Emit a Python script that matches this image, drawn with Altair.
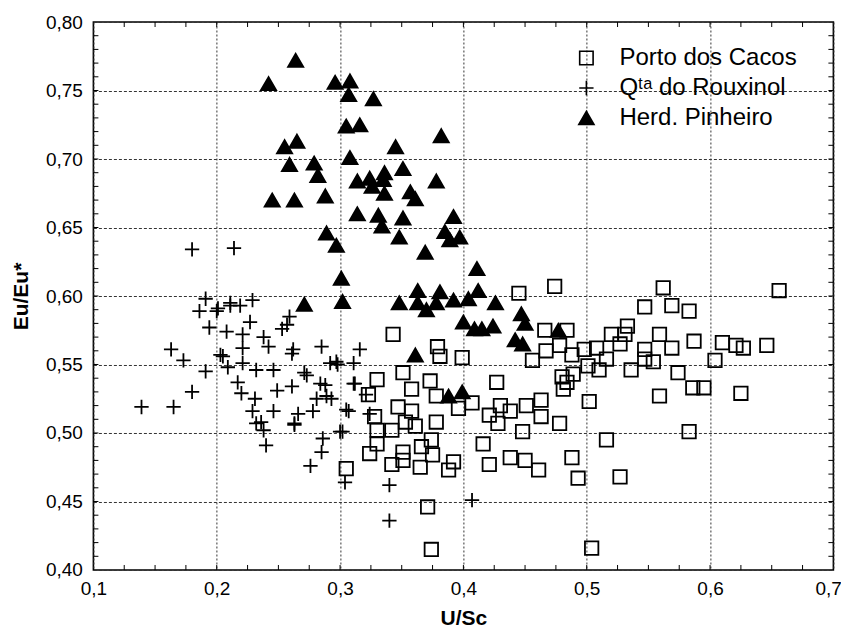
import altair as alt
import pandas as pd

# ---------------- data ----------------
series_names = ["Porto dos Cacos", "Q\u1d57\u1d43 do Rouxinol", "Herd. Pinheiro"]

porto_x = [0.445, 0.474, 0.343, 0.379, 0.381, 0.399, 0.466, 0.467, 0.456, 0.330,
           0.351, 0.373, 0.358, 0.427, 0.378, 0.323, 0.347, 0.358, 0.396, 0.407,
           0.421, 0.430, 0.438, 0.451, 0.463, 0.463, 0.428, 0.328, 0.330, 0.342,
           0.353, 0.361, 0.378, 0.448, 0.330, 0.324, 0.351, 0.366, 0.374, 0.375,
           0.416, 0.438, 0.450, 0.461, 0.342, 0.351, 0.365, 0.392, 0.388, 0.421,
           0.305, 0.371, 0.374,
           0.562, 0.656, 0.547, 0.569, 0.583, 0.533, 0.484, 0.520, 0.531, 0.559,
           0.587, 0.610, 0.621, 0.627, 0.646, 0.527, 0.508, 0.498, 0.478, 0.488,
           0.547, 0.569, 0.516, 0.547, 0.554, 0.604, 0.501, 0.510, 0.536, 0.489,
           0.574, 0.480, 0.484, 0.481, 0.586, 0.595, 0.559, 0.625, 0.502, 0.478,
           0.583, 0.516, 0.488, 0.493, 0.527, 0.504]
porto_y = [0.602, 0.607, 0.572, 0.563, 0.556, 0.555, 0.575, 0.560, 0.553, 0.539,
           0.544, 0.538, 0.532, 0.537, 0.527, 0.528, 0.519, 0.516, 0.518, 0.522,
           0.513, 0.520, 0.516, 0.520, 0.524, 0.512, 0.507, 0.512, 0.502, 0.502,
           0.508, 0.505, 0.508, 0.501, 0.492, 0.485, 0.486, 0.490, 0.495, 0.484,
           0.492, 0.482, 0.480, 0.473, 0.477, 0.480, 0.475, 0.479, 0.473, 0.477,
           0.474, 0.446, 0.415,
           0.606, 0.604, 0.592, 0.593, 0.589, 0.578, 0.575, 0.572, 0.572, 0.572,
           0.567, 0.566, 0.564, 0.562, 0.564, 0.565, 0.562, 0.561, 0.564, 0.557,
           0.561, 0.562, 0.554, 0.554, 0.552, 0.553, 0.549, 0.546, 0.546, 0.543,
           0.544, 0.541, 0.537, 0.532, 0.533, 0.533, 0.527, 0.529, 0.523, 0.507,
           0.501, 0.495, 0.482, 0.467, 0.468, 0.416]

rouxinol_x = [0.180, 0.214, 0.191, 0.186, 0.200, 0.211, 0.219, 0.229, 0.227, 0.259,
              0.194, 0.208, 0.221, 0.238, 0.253, 0.163, 0.173, 0.203, 0.221, 0.242,
              0.262, 0.285, 0.191, 0.209, 0.221, 0.232, 0.246, 0.271, 0.292, 0.180,
              0.217, 0.220, 0.249, 0.284, 0.139, 0.165, 0.231, 0.229, 0.246, 0.266,
              0.278, 0.289, 0.307, 0.236, 0.263, 0.238, 0.240, 0.300, 0.286, 0.285,
              0.276, 0.304, 0.340, 0.340, 0.407, 0.316, 0.298, 0.311, 0.311, 0.321,
              0.293, 0.324, 0.257, 0.205, 0.261, 0.297, 0.273, 0.288, 0.261, 0.312,
              0.281, 0.232, 0.263, 0.302, 0.305, 0.201, 0.211]
rouxinol_y = [0.634, 0.635, 0.598, 0.589, 0.589, 0.593, 0.593, 0.597, 0.581, 0.585,
              0.577, 0.574, 0.572, 0.570, 0.576, 0.561, 0.553, 0.557, 0.562, 0.563,
              0.561, 0.563, 0.545, 0.548, 0.551, 0.546, 0.546, 0.544, 0.551, 0.530,
              0.537, 0.529, 0.531, 0.536, 0.519, 0.519, 0.525, 0.516, 0.516, 0.514,
              0.516, 0.527, 0.516, 0.508, 0.507, 0.502, 0.491, 0.501, 0.496, 0.486,
              0.476, 0.464, 0.462, 0.436, 0.451, 0.561, 0.550, 0.551, 0.536, 0.528,
              0.525, 0.514, 0.579, 0.556, 0.558, 0.552, 0.542, 0.535, 0.534, 0.536,
              0.525, 0.507, 0.506, 0.501, 0.517, 0.591, 0.595]

pinheiro_x = [0.264, 0.242, 0.296, 0.308, 0.307, 0.327, 0.305, 0.316, 0.382, 0.255,
              0.265, 0.345, 0.259, 0.279, 0.282, 0.308, 0.351, 0.314, 0.324, 0.326,
              0.336, 0.335, 0.378, 0.288, 0.336, 0.357, 0.361, 0.245, 0.263, 0.314,
              0.331, 0.351, 0.392, 0.334, 0.289, 0.385, 0.397, 0.389, 0.348, 0.297,
              0.369, 0.411, 0.301, 0.412, 0.363, 0.381, 0.271, 0.302, 0.348, 0.363,
              0.378, 0.392, 0.404, 0.426, 0.370, 0.400, 0.409, 0.415, 0.424, 0.447,
              0.450, 0.442, 0.448, 0.361, 0.388, 0.399, 0.477]
pinheiro_y = [0.772, 0.755, 0.756, 0.757, 0.747, 0.744, 0.724, 0.725, 0.717, 0.709,
              0.713, 0.709, 0.696, 0.697, 0.688, 0.701, 0.693, 0.684, 0.686, 0.680,
              0.690, 0.685, 0.684, 0.673, 0.675, 0.676, 0.671, 0.670, 0.670, 0.660,
              0.659, 0.657, 0.658, 0.651, 0.646, 0.647, 0.643, 0.641, 0.643, 0.637,
              0.632, 0.620, 0.613, 0.604, 0.604, 0.603, 0.594, 0.596, 0.595, 0.595,
              0.595, 0.597, 0.598, 0.595, 0.590, 0.581, 0.576, 0.576, 0.578, 0.587,
              0.580, 0.568, 0.565, 0.557, 0.527, 0.530, 0.575]

x_major = [0.1, 0.2, 0.3, 0.4, 0.5, 0.6, 0.7]
y_major = [0.40, 0.45, 0.50, 0.55, 0.60, 0.65, 0.70, 0.75, 0.80]
x_ticks = [0.125, 0.15, 0.175, 0.2, 0.225, 0.25, 0.275, 0.3, 0.325, 0.35, 0.375,
           0.4, 0.425, 0.45, 0.475, 0.5, 0.525, 0.55, 0.575, 0.6, 0.625, 0.65, 0.675]
y_ticks = [0.41, 0.42, 0.43, 0.44, 0.45, 0.46, 0.47, 0.48, 0.49, 0.50,
           0.51, 0.52, 0.53, 0.54, 0.55, 0.56, 0.57, 0.58, 0.59, 0.60,
           0.61, 0.62, 0.63, 0.64, 0.65, 0.66, 0.67, 0.68, 0.69, 0.70,
           0.71, 0.72, 0.73, 0.74, 0.75, 0.76, 0.77, 0.78, 0.79]

# ---------------- build tables ----------------
rows = []
for name, xs_, ys_ in zip(series_names, [porto_x, rouxinol_x, pinheiro_x],
                          [porto_y, rouxinol_y, pinheiro_y]):
    for a, b in zip(xs_, ys_):
        rows.append({"serie": name, "usc": a, "eu": b})
df = pd.DataFrame(rows)
xt = pd.DataFrame({"xv": x_ticks})
yt = pd.DataFrame({"yv": y_ticks})

W, H = 740, 548
FONT = "Liberation Sans"
TICK = 5

xscale = alt.Scale(domain=[0.1, 0.7], nice=False, zero=False)
yscale = alt.Scale(domain=[0.4, 0.8], nice=False, zero=False)

last_label = "datum.value >= 0.69"
x_axis = alt.Axis(values=x_major, grid=True, gridDash=[2, 2], gridColor="#333333",
                  gridWidth=1, domain=False, ticks=False,
                  labelExpr="replace(format(datum.value, '.1f'), '.', ',')",
                  labelFont=FONT, labelFontSize=19, labelColor="black", labelPadding=10,
                  labelFlush=False,
                  labelAlign=alt.condition(last_label, alt.value("right"), alt.value("center")),
                  labelOffset=alt.condition(last_label, alt.value(8), alt.value(0)),
                  title="U/Sc", titleFont=FONT, titleFontSize=21, titleFontWeight="bold",
                  titleColor="black", titleBaseline="alphabetic", titleY=55)
y_axis = alt.Axis(values=y_major, grid=True, gridDash=[3, 2], gridColor="#333333",
                  gridWidth=1, domain=False, ticks=False,
                  labelExpr="replace(format(datum.value, '.2f'), '.', ',')",
                  labelFont=FONT, labelFontSize=19, labelColor="black", labelPadding=11,
                  labelFlush=False,
                  title="Eu/Eu*", titleFont=FONT, titleFontSize=21, titleFontWeight="bold",
                  titleColor="black", titlePadding=14)

legend = alt.Legend(title=None, orient="none", legendX=481, legendY=24,
                    labelFont=FONT, labelFontSize=24, labelColor="black", labelLimit=400,
                    symbolStrokeColor="black", symbolStrokeWidth=1.6, symbolSize=170,
                    rowPadding=6, labelOffset=21, padding=0)

dom = series_names
points = alt.Chart(df).mark_point(opacity=1, strokeWidth=1.8).encode(
    x=alt.X("usc:Q", scale=xscale, axis=x_axis),
    y=alt.Y("eu:Q", scale=yscale, axis=y_axis),
    shape=alt.Shape("serie:N", sort=dom, legend=legend,
                    scale=alt.Scale(domain=dom,
                                    range=["square", "M-1,0L1,0M0,-1L0,1", "triangle-up"])),
    fill=alt.Fill("serie:N", sort=dom, legend=legend,
                  scale=alt.Scale(domain=dom, range=["transparent", "transparent", "black"])),
    stroke=alt.Stroke("serie:N", sort=dom, legend=legend,
                      scale=alt.Scale(domain=dom, range=["black", "black", "black"])),
    size=alt.Size("serie:N", sort=dom, legend=legend,
                  scale=alt.Scale(domain=dom, range=[180, 230, 200])),
)

x_enc = alt.X("xv:Q", scale=xscale, axis=x_axis)
y_enc = alt.Y("yv:Q", scale=yscale, axis=y_axis)

xticks_bottom = alt.Chart(xt).mark_rule(color="black", strokeWidth=1).encode(
    x=x_enc, y=alt.value(H), y2=alt.value(H - TICK))
xticks_top = alt.Chart(xt).mark_rule(color="black", strokeWidth=1).encode(
    x=x_enc, y=alt.value(0), y2=alt.value(TICK))
yticks_left = alt.Chart(yt).mark_rule(color="black", strokeWidth=1).encode(
    y=y_enc, x=alt.value(0), x2=alt.value(TICK))
yticks_right = alt.Chart(yt).mark_rule(color="black", strokeWidth=1).encode(
    y=y_enc, x=alt.value(W - TICK), x2=alt.value(W))

chart = alt.layer(xticks_bottom, xticks_top, yticks_left, yticks_right, points).properties(
    width=W, height=H,
    autosize=alt.AutoSizeParams(type="none"),
    padding={"left": 85.4, "top": 14, "right": 8, "bottom": 59},
    background="white",
).configure_view(stroke="black", strokeWidth=1.6)

chart.save("out.html", embed_options={"renderer": "svg", "actions": False})
